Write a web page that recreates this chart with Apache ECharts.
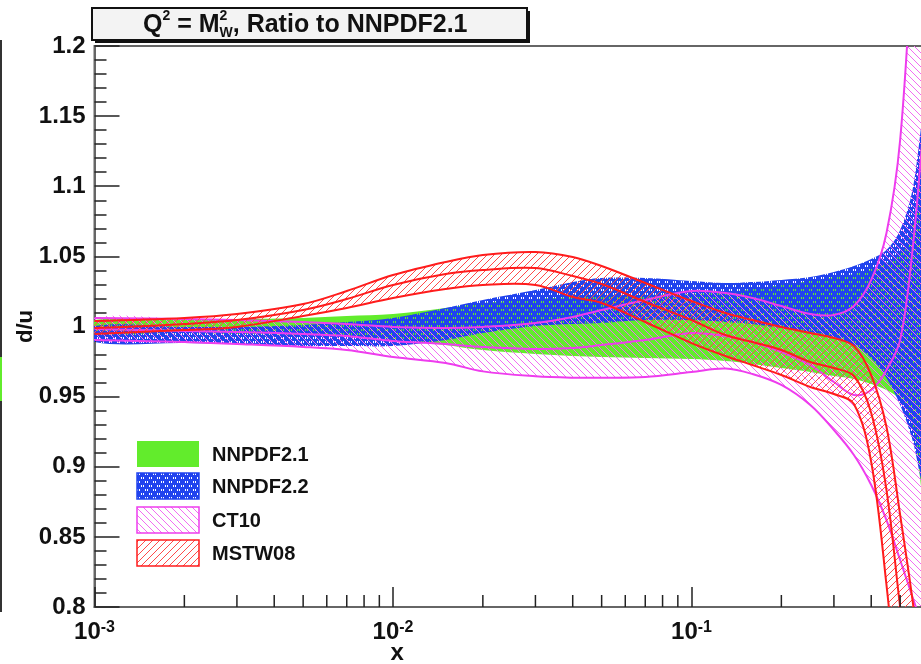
<!DOCTYPE html>
<html>
<head>
<meta charset="utf-8">
<title>d/u ratio to NNPDF2.1</title>
<script src="https://cdn.jsdelivr.net/npm/echarts@6/dist/echarts.min.js"></script>
<style>
    html, body { margin: 0; padding: 0; background: #fff; }
    #chart { width: 921px; height: 664px; }
</style>
</head>
<body>
<div id="chart"></div>
<script>
;
(function () {

    // x grid shared by every band
    var xs = [0.001, 0.002, 0.003, 0.005, 0.007, 0.01, 0.015, 0.02, 0.03, 0.04, 0.05, 0.07,
        0.1, 0.13, 0.16, 0.2, 0.25, 0.3, 0.35, 0.4, 0.45, 0.5, 0.55, 0.6];

    var nn21Upper = [1.0046, 1.0046, 1.0053, 1.0061, 1.0075, 1.0089, 1.0132, 1.0168, 1.0196, 1.0210, 1.0217, 1.0225,
        1.0232, 1.0246, 1.0267, 1.0296, 1.0324, 1.0353, 1.0374, 1.0410, 1.0453, 1.0524, 1.0702, 1.1237];
    var nn21Lower = [0.9954, 0.9954, 0.9947, 0.9939, 0.9925, 0.9911, 0.9868, 0.9832, 0.9804, 0.9790, 0.9783, 0.9775,
        0.9768, 0.9754, 0.9733, 0.9704, 0.9676, 0.9647, 0.9626, 0.9590, 0.9547, 0.9476, 0.9298, 0.8763];

    var nn22Upper = [1.0004, 0.9997, 0.9997, 1.0011, 1.0032, 1.0061, 1.0132, 1.0189, 1.0260, 1.0317, 1.0346, 1.0346,
        1.0324, 1.0310, 1.0317, 1.0332, 1.0353, 1.0389, 1.0431, 1.0481, 1.0545, 1.0688, 1.0973, 1.1500];
    var nn22Lower = [0.9889, 0.9882, 0.9875, 0.9861, 0.9861, 0.9861, 0.9904, 0.9954, 1.0004, 1.0018, 1.0025, 1.0046,
        1.0046, 1.0032, 1.0018, 0.9989, 0.9961, 0.9925, 0.9868, 0.9775, 0.9633, 0.9440, 0.9191, 0.8870];

    var ct10Upper = [1.0061, 1.0054, 1.0046, 1.0032, 1.0018, 0.9997, 0.9989, 0.9997, 1.0025, 1.0068, 1.0118, 1.0189,
        1.0253, 1.0239, 1.0203, 1.0146, 1.0089, 1.0082, 1.0146, 1.0332, 1.0667, 1.1330, 1.2700, 1.4500];
    var ct10Central = [0.9982, 0.9968, 0.9961, 0.9947, 0.9932, 0.9897, 0.9875, 0.9854, 0.9840, 0.9847, 0.9868, 0.9904,
        0.9954, 0.9932, 0.9889, 0.9818, 0.9725, 0.9604, 0.9512, 0.9547, 0.9690, 0.9904, 1.0545, 1.1472];
    var ct10Lower = [0.9904, 0.9889, 0.9875, 0.9854, 0.9832, 0.9782, 0.9740, 0.9680, 0.9645, 0.9635, 0.9635, 0.9640,
        0.9675, 0.9700, 0.9661, 0.9583, 0.9440, 0.9262, 0.9084, 0.8870, 0.8620, 0.8335, 0.8071, 0.7836];

    var mstwUpper = [1.0039, 1.0061, 1.0089, 1.0160, 1.0253, 1.0367, 1.0460, 1.0510, 1.0531, 1.0496, 1.0431, 1.0310,
        1.0182, 1.0096, 1.0046, 0.9997, 0.9954, 0.9918, 0.9861, 0.9654, 0.9283, 0.8656, 0.8050, 0.7400];
    var mstwCentral = [0.9989, 1.0018, 1.0046, 1.0118, 1.0196, 1.0296, 1.0374, 1.0403, 1.0417, 1.0360, 1.0303, 1.0175,
        1.0046, 0.9939, 0.9889, 0.9832, 0.9747, 0.9704, 0.9647, 0.9383, 0.8834, 0.8000, 0.7337, 0.6600];
    var mstwLower = [0.9947, 0.9975, 0.9997, 1.0075, 1.0132, 1.0203, 1.0267, 1.0296, 1.0296, 1.0210, 1.0168, 1.0032,
        0.9882, 0.9790, 0.9725, 0.9654, 0.9569, 0.9519, 0.9447, 0.9034, 0.8157, 0.7194, 0.6481, 0.5700];

    var xMinorTicks = [0.002, 0.003, 0.004, 0.005, 0.006, 0.007, 0.008, 0.009,
        0.02, 0.03, 0.04, 0.05, 0.06, 0.07, 0.08, 0.09,
        0.2, 0.3, 0.4, 0.5, 0.6, 0.7, 0.8, 0.9];

    var legendNames = ["NNPDF2.1", "NNPDF2.2", "CT10", "MSTW08"];

    var FONT = "'Liberation Sans', Arial, Helvetica, sans-serif";
    var GREEN = '#62ec2c', BLUE = '#2143ee', MAGENTA = '#ee3cee', RED = '#ff1c1c';

    // ROOT-like fill patterns, drawn pixel by pixel
    function hatch(color, slash) {
        var c = document.createElement('canvas');
        c.width = 7; c.height = 7;
        var g = c.getContext('2d');
        g.fillStyle = color;
        for (var i = 0; i < 7; i++) {
            g.fillRect(i, slash ? 6 - i : i, 1, 1);
        }
        return { image: c, repeat: 'repeat' };
    }

    function bluePattern() {
        var c = document.createElement('canvas');
        c.width = 8; c.height = 8;
        var g = c.getContext('2d');
        g.fillStyle = BLUE;
        g.fillRect(0, 0, 8, 8);
        g.clearRect(1, 1, 1, 2); g.clearRect(3, 1, 1, 2);
        g.clearRect(5, 5, 1, 2); g.clearRect(7, 5, 1, 2);
        return { image: c, repeat: 'repeat' };
    }

    var fills = [GREEN, bluePattern(), hatch('#f26cf2', false), hatch('#ff4a4a', true)];
    var edges = [null, BLUE, MAGENTA, RED];

    function band(name, upper, lower, central, fill, edge) {
        return {
            type: 'custom',
            name: name,
            clip: true,
            silent: true,
            data: [[xs[0], 1]],
            renderItem: function (params, api) {
                var up = xs.map(function (x, i) { return api.coord([x, upper[i]]); });
                var lo = xs.map(function (x, i) { return api.coord([x, lower[i]]); });
                var children = [{
                    type: 'polygon',
                    shape: { points: up.concat(lo.slice().reverse()), smooth: 0.35 },
                    style: { fill: fill, stroke: null }
                }];
                if (central) {
                    var mid = xs.map(function (x, i) { return api.coord([x, central[i]]); });
                    [up, mid, lo].forEach(function (pts) {
                        children.push({
                            type: 'polyline',
                            shape: { points: pts, smooth: 0.35 },
                            style: { stroke: edge, lineWidth: 2, fill: null }
                        });
                    });
                }
                return { type: 'group', children: children };
            }
        };
    }

    // title box with Q^2 = M_W^2
    var meas = document.createElement('canvas').getContext('2d');
    function textWidth(s, font) {
        meas.font = font;
        return meas.measureText(s).width;
    }
    var bigFont = 'bold 25px ' + FONT, smallFont = 'bold 14px ' + FONT;
    var pieces = [], cx = 143;
    function piece(t, font, dy, advance) {
        pieces.push({
            type: 'text', x: cx, y: 25 + dy,
            style: { text: t, font: font, fill: '#111', verticalAlign: 'middle' }
        });
        if (advance) cx += textWidth(t, font);
    }
    piece('Q', bigFont, 0, true);
    piece('2', smallFont, -9, true);
    piece(' = M', bigFont, 0, true);
    piece('2', smallFont, -9, false);
    piece('W', smallFont, 8, true);
    piece(', Ratio to NNPDF2.1', bigFont, 0, true);

    var graphic = [
        { type: 'rect', shape: { x: 95, y: 11, width: 435, height: 32 }, style: { fill: '#111' } },
        { type: 'rect', shape: { x: 92, y: 8, width: 435, height: 32 }, style: { fill: '#f3f3f3', stroke: '#111', lineWidth: 2 } },
        { type: 'group', children: pieces },
        { type: 'line', shape: { x1: 1, y1: 40, x2: 1, y2: 612 }, style: { stroke: '#333', lineWidth: 2 } },
        { type: 'rect', shape: { x: 0, y: 357, width: 2, height: 44 }, style: { fill: GREEN } }
    ];

    // legend boxes
    var legendTop = [441, 473, 507, 540];
    legendNames.forEach(function (n, i) {
        graphic.push({
            type: 'rect',
            shape: { x: 137, y: legendTop[i], width: 62, height: 26 },
            style: { fill: fills[i], stroke: i === 0 ? null : edges[i], lineWidth: 1.5 }
        });
        graphic.push({
            type: 'text', x: 212, y: legendTop[i] + 14,
            style: { text: n, font: 'bold 20px ' + FONT, fill: '#111', verticalAlign: 'middle' }
        });
    });

    var series = [
        band(legendNames[0], nn21Upper, nn21Lower, null, fills[0], null),
        band(legendNames[1], nn22Upper, nn22Lower, null, fills[1], null),
        band(legendNames[2], ct10Upper, ct10Lower, ct10Central, fills[2], edges[2]),
        band(legendNames[3], mstwUpper, mstwLower, mstwCentral, fills[3], edges[3]),
        {
            type: 'custom',
            name: 'minor ticks',
            silent: true,
            data: xMinorTicks.map(function (v) { return [v, 0.8]; }),
            renderItem: function (params, api) {
                var p = api.coord([api.value(0), api.value(1)]);
                return {
                    type: 'line',
                    shape: { x1: p[0], y1: p[1], x2: p[0], y2: p[1] - 12 },
                    style: { stroke: '#222', lineWidth: 1.5 }
                };
            }
        }
    ];

    var option = {
        animation: false,
        backgroundColor: '#fff',
        textStyle: { fontFamily: FONT },
        grid: {
            left: 94.5, right: -69, top: 46, bottom: 57,
            show: true, borderColor: '#666', borderWidth: 2,
            outerBoundsMode: 'none'
        },
        xAxis: {
            type: 'log',
            logBase: 10,
            min: 0.001,
            max: 1,
            name: 'x',
            nameLocation: 'middle',
            nameGap: 34,
            nameMoveOverlap: false,
            nameTextStyle: { fontSize: 24, fontWeight: 'bold', color: '#111', padding: [0, 290, 0, 0] },
            axisLine: { show: true, onZero: false, lineStyle: { color: '#666', width: 2 } },
            axisTick: { show: true, inside: true, length: 20, lineStyle: { color: '#222', width: 1.5 } },
            minorTick: { show: false },
            splitLine: { show: false },
            axisLabel: {
                margin: 13,
                formatter: function (v) {
                    return '{b|10}{e|' + Math.round(Math.log10(v)) + '}';
                },
                rich: {
                    b: { fontSize: 24, fontWeight: 'bold', color: '#111', fontFamily: FONT },
                    e: { fontSize: 16, fontWeight: 'bold', color: '#111', fontFamily: FONT, verticalAlign: 'top' }
                }
            }
        },
        yAxis: {
            type: 'value',
            min: 0.8,
            max: 1.2,
            interval: 0.05,
            name: 'd/u',
            nameLocation: 'middle',
            nameGap: 58,
            nameMoveOverlap: false,
            nameTextStyle: { fontSize: 22, fontWeight: 'bold', color: '#111' },
            axisLine: { show: true, lineStyle: { color: '#666', width: 2 } },
            axisTick: { show: true, inside: true, length: 25, lineStyle: { color: '#222', width: 1.5 } },
            minorTick: { show: true, splitNumber: 5, length: 12, lineStyle: { color: '#222', width: 1.5 } },
            splitLine: { show: false },
            axisLabel: { margin: 9, fontSize: 24, fontWeight: 'bold', color: '#111' }
        },
        graphic: graphic,
        series: series
    };

    var myChart = echarts.init(document.getElementById('chart'), null, { renderer: 'canvas' });
    myChart.setOption(option);

})();
</script>
</body>
</html>
